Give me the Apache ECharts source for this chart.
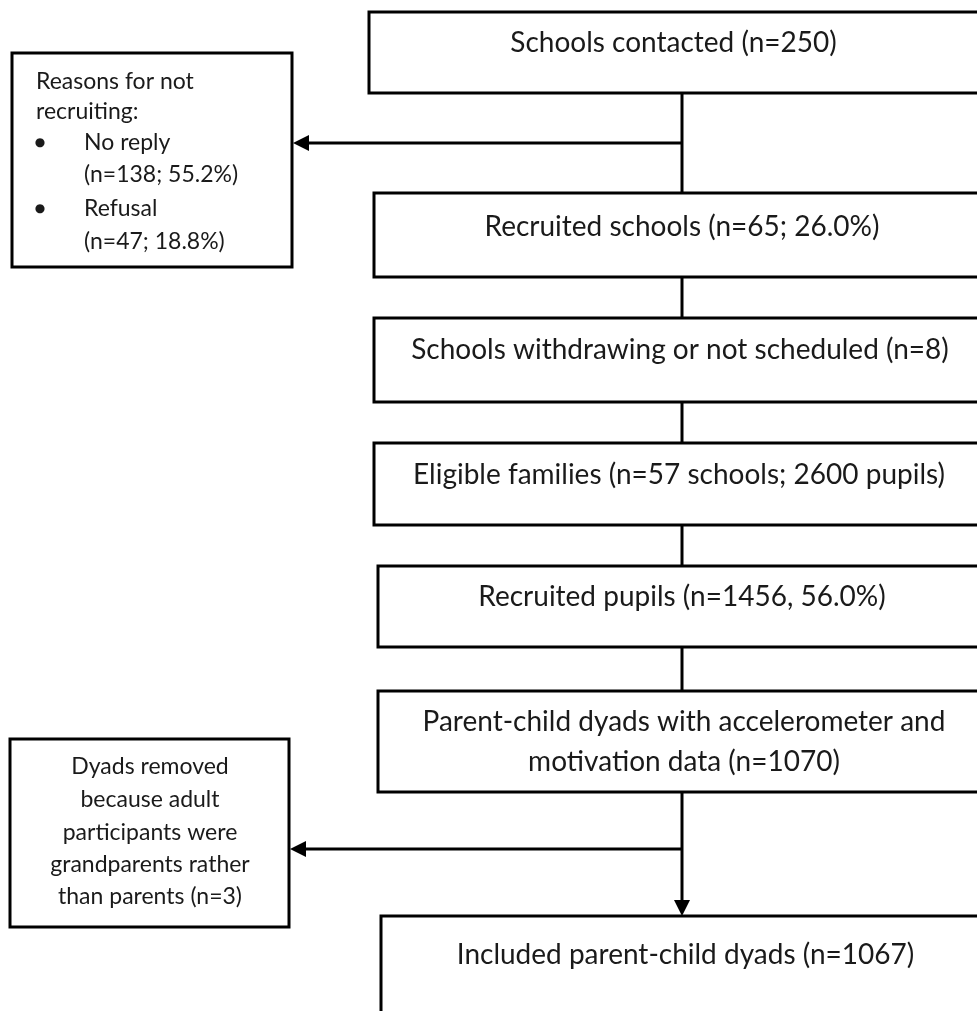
<!DOCTYPE html>
<html><head><meta charset="utf-8">
<script src="https://cdn.jsdelivr.net/npm/echarts@6/dist/echarts.min.js"></script>
<style>html,body{margin:0;padding:0;background:#fff}#c{width:977px;height:1011px}</style>
</head><body><div id="c"></div>
<script>
// ---- content ----
const stepLabels = [
  ["Schools contacted (n=250)"],
  ["Recruited schools (n=65; 26.0%)"],
  ["Schools withdrawing or not scheduled (n=8)"],
  ["Eligible families (n=57 schools; 2600 pupils)"],
  ["Recruited pupils (n=1456, 56.0%)"],
  ["Parent-child dyads with accelerometer and", "motivation data (n=1070)"],
  ["Included parent-child dyads (n=1067)"]
];
const reasonsTitle = ["Reasons for not", "recruiting:"];
const reasonItems = [["No reply", "(n=138; 55.2%)"], ["Refusal", "(n=47; 18.8%)"]];
const removedLabels = ["Dyads removed", "because adult", "participants were", "grandparents rather", "than parents (n=3)"];

// ---- layout (pixel-space coordinates on hidden axes) ----
const stepBoxes = [[369,12,990,93],[374,193,990,277],[374,318,990,402],[374,443,990,525],[378,566,990,647],[378,691,990,792],[381,916,990,1040]];
const stepTextY = [43,227,350,475,597,722,955];
const stepTextDx = [-6,0,-2,-3,-2,0,0];
const stepLineH = 40;
const sideBoxes = [[12,53,292,267],[10,739,289,927]];
const connectors = [
  [682,93,682,193,0],[682,143,293,143,1],
  [682,277,682,318,0],[682,402,682,443,0],[682,525,682,566,0],[682,647,682,691,0],
  [682,792,682,916,1],[682,849,290,849,1]
];

const mainFont = '28px Lato, "Open Sans", sans-serif';
const sideFont = '23px Lato, "Open Sans", sans-serif';
const textColor = '#1a1a1a';

// build text items
const texts = [];
stepLabels.forEach((lines, i) => {
  const cx = (stepBoxes[i][0] + stepBoxes[i][2]) / 2 + stepTextDx[i];
  lines.forEach((t, k) => texts.push({x: cx, y: stepTextY[i] + k * stepLineH, t, align: 'center', font: mainFont}));
});
const rY = [82, 112];
reasonsTitle.forEach((t, k) => texts.push({x: 36, y: rY[k], t, align: 'left', font: sideFont}));
const itemY = [[143, 175], [209, 242]];
reasonItems.forEach((it, j) => {
  texts.push({x: 40, y: itemY[j][0], t: '\u25CF', align: 'center', font: '12px "DejaVu Sans", sans-serif'});
  it.forEach((t, k) => texts.push({x: 84, y: itemY[j][k], t, align: 'left', font: sideFont}));
});
const remY = [767, 800, 833, 865, 897];
removedLabels.forEach((t, k) => texts.push({x: 150, y: remY[k], t, align: 'center', font: sideFont}));

const allBoxes = stepBoxes.concat(sideBoxes);

const chart = echarts.init(document.getElementById('c'), null, {renderer: 'canvas'});
chart.setOption({
  animation: false,
  backgroundColor: '#ffffff',
  grid: {left: 0, right: 0, top: 0, bottom: 0},
  xAxis: {type: 'value', min: 0, max: 977, show: false},
  yAxis: {type: 'value', min: 0, max: 1011, inverse: true, show: false},
  series: [
    {
      type: 'custom', clip: false,
      data: allBoxes,
      renderItem: (params, api) => {
        const p0 = api.coord([api.value(0), api.value(1)]);
        const p1 = api.coord([api.value(2), api.value(3)]);
        return {type: 'rect', shape: {x: p0[0], y: p0[1], width: p1[0] - p0[0], height: p1[1] - p0[1]},
          style: {fill: '#fff', stroke: '#000', lineWidth: 3}};
      }
    },
    {
      type: 'custom', clip: false,
      data: connectors,
      renderItem: (params, api) => {
        const a = api.coord([api.value(0), api.value(1)]);
        const b = api.coord([api.value(2), api.value(3)]);
        const arrow = api.value(4) === 1;
        const children = [];
        const dx = b[0] - a[0], dy = b[1] - a[1];
        const len = Math.hypot(dx, dy), ux = dx / len, uy = dy / len;
        const head = 16, half = 8;
        const end = arrow ? [b[0] - ux * (head - 2), b[1] - uy * (head - 2)] : b;
        children.push({type: 'line', shape: {x1: a[0], y1: a[1], x2: end[0], y2: end[1]},
          style: {stroke: '#000', lineWidth: 3}});
        if (arrow) {
          const bx = b[0] - ux * head, by = b[1] - uy * head;
          children.push({type: 'polygon', shape: {points: [[b[0], b[1]], [bx - uy * half, by + ux * half], [bx + uy * half, by - ux * half]]},
            style: {fill: '#000'}});
        }
        return {type: 'group', children};
      }
    },
    {
      type: 'custom', clip: false,
      data: texts.map((d, i) => [d.x, d.y, i]),
      renderItem: (params, api) => {
        const d = texts[params.dataIndex];
        const p = api.coord([d.x, d.y]);
        return {type: 'text', x: p[0], y: p[1],
          style: {text: d.t, font: d.font, fill: textColor, align: d.align, verticalAlign: 'middle'}};
      }
    }
  ]
});
</script>
</body></html>
